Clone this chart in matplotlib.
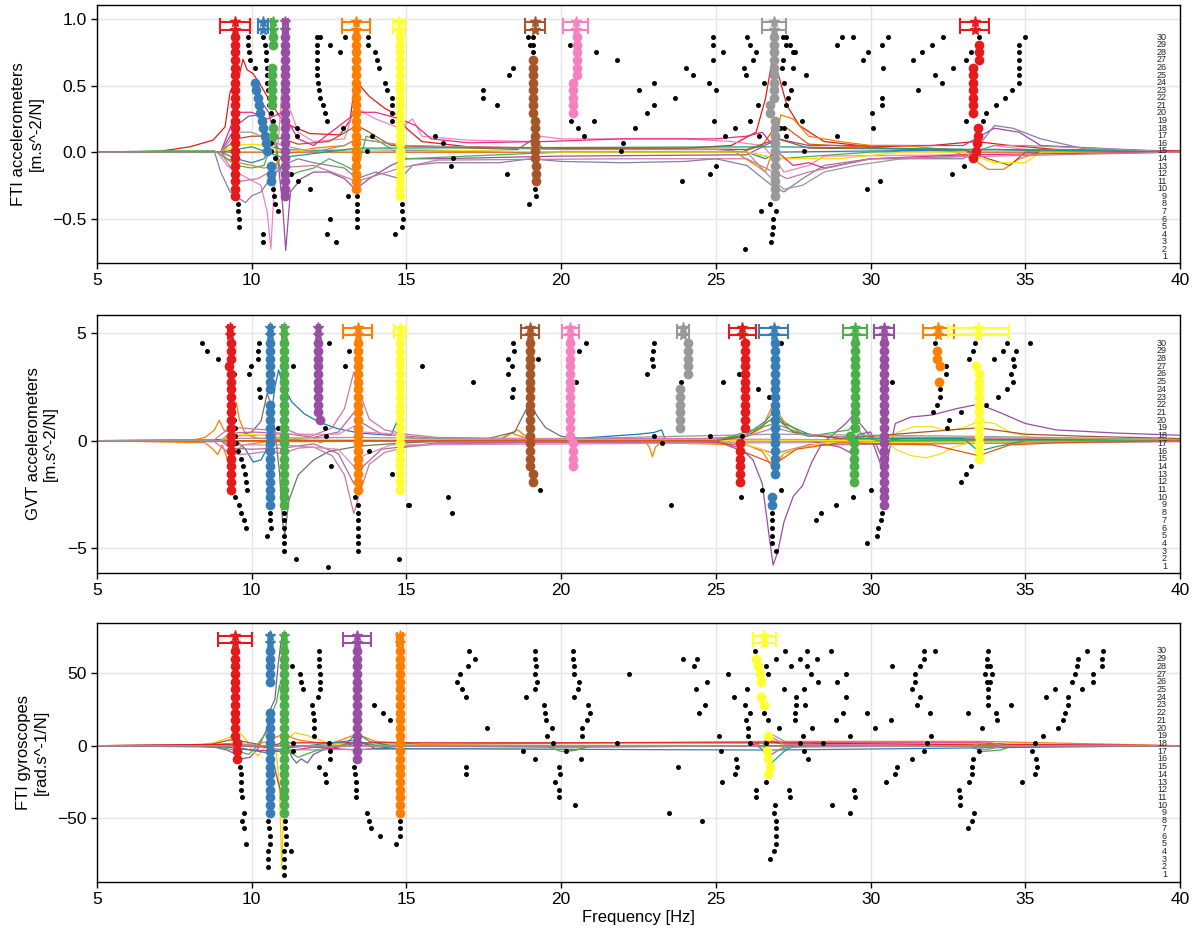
import matplotlib.pyplot as plt

plt.rcParams['font.family'] = ['Liberation Sans', 'DejaVu Sans']

SET1 = ['#e41a1c', '#377eb8', '#4daf4a', '#984ea3', '#ff7f00',
        '#ffff33', '#a65628', '#f781bf', '#999999']

XTICKS = [5, 10, 15, 20, 25, 30, 35, 40]
YLABELS = ['FTI accelerometers\n[m.s^-2/N]',
           'GVT accelerometers\n[m.s^-2/N]',
           'FTI gyroscopes\n[rad.s^-1/N]']
YTICKS = [[-0.5, 0.0, 0.5, 1.0], [-5, 0, 5], [-50, 0, 50]]
YLIMS = [(-0.835, 1.108), (-6.17, 5.86), (-94.2, 84.8)]
# model order 1 sits at ORDER_LO, each order adds ORDER_STEP (data units)
ORDER_LO = [-0.789, -5.87, -89.06]
ORDER_STEP = [0.05704, 0.3591, 5.33]
MAX_ORDER = 30

# ---------------------------------------------------------------- FRF curves
# (colour, [(frequency, value), ...])
P1_CURVES = [
    ('#e41a1c', [(5, 0), (7, 0.005), (8, 0.04), (8.75, 0.09), (9.14, 0.19), (9.3, 0.45), (9.5, 0.55),
                 (9.6, 0.58), (9.72, 0.7), (9.85, 0.62), (10.05, 0.59), (10.3, 0.5), (10.6, 0.38),
                 (10.9, 0.27), (11.24, 0.2), (11.88, 0.14), (12.85, 0.13), (13.18, 0.24), (13.35, 0.55),
                 (13.5, 0.5), (13.8, 0.42), (14.3, 0.33), (14.7, 0.28), (15.0, 0.18), (15.5, 0.08),
                 (17, 0.04), (20, 0.03), (24, 0.03), (25.5, 0.05), (26.3, 0.15), (26.6, 0.4), (26.85, 0.73),
                 (27.0, 0.6), (27.3, 0.35), (27.7, 0.2), (28.5, 0.08), (30, 0.04), (32, 0.05),
                 (33.4, 0.08), (34.5, 0.05), (36, 0.02), (40, 0.01)]),
    ('#f781bf', [(5, 0), (8.9, 0), (9.2, -0.1), (9.5, -0.15), (9.9, -0.2), (10.3, -0.25), (10.5, -0.45),
                 (10.62, -0.73), (10.72, -0.3), (10.9, 0.2), (11.05, 0.75), (11.2, 0.35), (11.5, 0.15),
                 (12, 0.08), (13, 0.1), (13.35, 0.35), (13.6, 0.3), (14, 0.25), (14.8, 0.18),
                 (15.2, 0.25), (15.5, 0.12), (17, 0.09), (19, 0.08), (19.3, 0.12), (20, 0.1), (24, 0.1),
                 (25.5, 0.08), (26.5, 0.05), (26.9, -0.05), (27.2, -0.15), (28, -0.1), (28.5, -0.03),
                 (33, -0.02), (34, 0.05), (35, 0.02), (40, 0)]),
    ('#984ea3', [(5, 0), (9.0, 0), (9.5, 0.2), (9.9, 0.27), (10.2, 0.28), (10.4, 0.35), (10.55, 0.3),
                 (10.8, 0.05), (11.0, -0.4), (11.1, -0.74), (11.25, -0.3), (11.6, -0.2), (12, -0.15),
                 (12.5, -0.15), (13, -0.2), (13.35, -0.28), (13.8, -0.2), (14.5, -0.1), (15, -0.05),
                 (16, -0.05), (20, -0.03), (26, -0.02), (27, 0.1), (28, 0.05), (33, 0.05), (34, 0.18),
                 (34.8, 0.15), (35.5, 0.05), (40, 0)]),
    ('#8e7ba6', [(5, 0), (8.8, 0), (9.0, -0.15), (9.3, -0.3), (9.6, -0.35), (9.8, -0.38), (10.0, -0.33),
                 (10.3, -0.3), (10.6, -0.2), (11.0, -0.1), (11.5, -0.05), (12, -0.08), (13, -0.12),
                 (13.4, -0.2), (14, -0.15), (14.8, -0.2), (15.2, -0.1), (16, -0.08), (18, -0.08),
                 (19, -0.05), (20, -0.07), (22, -0.08), (24, -0.07), (25, -0.05), (26, -0.1),
                 (26.8, -0.25), (27.2, -0.3), (27.8, -0.2), (28.5, -0.1), (30, -0.05), (33, -0.05),
                 (33.5, 0.05), (34, 0.2), (34.6, 0.18), (35.5, 0.1), (37, 0.02), (40, 0)]),
    ('#ff7f00', [(5, 0), (9, 0), (9.2, -0.05), (9.6, -0.08), (10, -0.1), (10.4, -0.12), (10.8, -0.1),
                 (11, -0.02), (12, 0.03), (13, 0.05), (13.4, 0.1), (14, 0.08), (14.8, 0.05), (20, 0.02),
                 (25.5, 0.02), (26.3, -0.1), (26.6, -0.15), (26.9, 0.05), (27.1, 0.28), (27.5, 0.25),
                 (28, 0.12), (28.5, 0.1), (29, 0.08), (30, 0.05), (31, 0.05), (32.5, 0.02), (33.3, -0.05),
                 (33.8, -0.13), (34.3, -0.13), (34.8, -0.05), (35.5, 0.0), (40, 0.0)]),
    ('#e6550d', [(5, 0), (25.8, 0.0), (26.5, 0.05), (26.95, 0.2), (27.3, 0.18), (28, 0.06),
                 (33, 0.0), (40, 0)]),
    ('#4daf4a', [(5, 0), (7, 0.01), (8.8, 0.01), (9.5, -0.1), (10, -0.12), (10.4, -0.1), (10.7, 0.1),
                 (11, -0.2), (11.5, -0.15), (12, -0.12), (12.5, -0.05), (13, -0.1), (13.4, -0.15),
                 (13.7, 0.12), (14, 0.1), (15, -0.05), (20, 0), (26, 0.0), (27, -0.05), (30, 0.0),
                 (34, 0.02), (40, 0)]),
    ('#377eb8', [(5, 0), (9, 0), (9.5, -0.05), (10, -0.08), (10.4, -0.05), (10.6, 0.04), (11, 0.02),
                 (12, 0.01), (13.4, 0.02), (20, 0), (26, 0), (26.6, -0.05), (27, 0), (34, 0.02),
                 (40, 0)]),
    ('#a65628', [(5, 0), (9, 0), (9.5, 0.1), (10, 0.12), (10.5, 0.12), (11, 0.1), (11.5, 0.06),
                 (12.5, 0.08), (13.4, 0.2), (13.8, 0.15), (14.5, 0.05), (18.6, 0.02), (19.1, 0.1),
                 (19.4, 0.03), (26, 0.02), (27, 0.1), (28, 0.03), (33, 0.02), (33.8, -0.05),
                 (34.5, -0.1), (35, 0), (40, 0)]),
    ('#ffdd00', [(5, 0), (9, 0), (9.5, 0.05), (10, 0.06), (10.5, 0.05), (11, 0.0), (12, 0.02),
                 (14.8, 0.02), (20, 0), (26, 0), (27, -0.05), (29, -0.05), (31, 0), (33, 0),
                 (34, -0.08), (35, -0.08), (35.5, 0), (40, 0)]),
    ('#e7298a', [(5, 0), (9, 0), (9.5, 0.3), (10, 0.3), (10.5, 0.25), (11, 0.3), (11.5, 0.1),
                 (12, 0.05), (13.4, 0.3), (14, 0.3), (14.8, 0.25), (15.3, 0.2), (15.8, 0.1), (17, 0.07),
                 (19.5, 0.08), (22, 0.1), (25, 0.1), (26, 0.12), (26.5, 0.15), (27, 0.0),
                 (27.5, -0.1), (28, -0.08), (28.5, -0.12), (30, -0.05), (33, -0.02), (40, 0)]),
    ('#999999', [(5, 0), (9, 0), (9.5, 0.15), (10, 0.15), (10.5, 0.1), (11, 0.05), (12, 0.0),
                 (13, 0.05), (13.4, 0.1), (15, 0.05), (20, 0.02), (25, 0.02), (26, 0), (26.8, -0.2),
                 (27.2, -0.28), (27.8, -0.25), (28.5, -0.15), (29.5, -0.1), (31, -0.05), (33, -0.03),
                 (34, 0.05), (35, 0.05), (40, 0)]),
    ('#1b9e77', [(5, 0), (9, 0), (10, 0.04), (11, -0.04), (13.4, 0.03), (26.9, 0.04), (40, 0)]),
    ('#c27ba0', [(5, 0), (9, 0), (9.6, -0.22), (10.2, -0.2), (10.8, -0.12), (12, -0.1), (13.4, -0.22),
                 (14.8, -0.12), (16, -0.06), (22, -0.05), (26, -0.05), (27.3, -0.2), (28, -0.15),
                 (30, -0.05), (40, 0)]),
]

P2_CURVES = [
    ('#ff7f00', [(5, 0), (8.0, 0), (8.5, 0.15), (8.8, 0.5), (8.95, 0.95), (9.1, 0.5), (9.25, 0.4),
                 (9.4, 1.1), (9.5, 1.8), (9.6, 1.0), (9.8, 0.3), (10.2, 0.1), (11, 0.05), (12, 0.05),
                 (12.1, 0.2), (12.2, -0.1), (12.4, 0), (18, 0.05), (18.3, 0.3), (18.6, 0.5), (18.9, 0.15),
                 (19.2, 0.05), (22.7, 0), (22.85, -0.3), (22.95, -0.75), (23.05, -0.3), (23.3, 0),
                 (26, 0.2), (26.5, 0.6), (26.85, 1.7), (27.2, 0.9), (27.8, 0.3), (29, 0.1), (40, 0)]),
    ('#ff7f00', [(5, 0), (8.5, -0.1), (8.75, -0.4), (8.9, -0.65), (9.05, -0.2), (9.2, -0.8),
                 (9.3, -1.4), (9.45, -0.6), (9.7, -0.2), (10.5, -0.05), (18, 0), (18.4, 0.35),
                 (18.7, 0.2), (19, 0.05), (26, -0.2), (26.5, -0.5), (26.85, -1.3), (27.2, -0.6),
                 (28, -0.2), (40, 0)]),
    ('#707070', [(5, 0), (9, 0.05), (9.5, 0.2), (10, 0.4), (10.3, 0.9), (10.5, 2.2), (10.6, 1.8),
                 (10.75, 0.5), (10.9, -1.5), (11.0, -3.8), (11.07, -4.4), (11.2, -2.8), (11.5, -1.6),
                 (12, -0.9), (12.5, -0.5), (13.5, -0.25), (15, -0.1), (17.5, 0.05), (18.5, 0.4),
                 (18.85, 1.4), (19.0, 1.8), (19.2, 1.2), (19.5, 0.6), (20, 0.2), (21, 0.05), (40, 0)]),
    ('#1f77b4', [(5, 0), (9.5, 0), (9.8, -0.4), (10.05, -1.0), (10.3, -0.9), (10.45, -0.5),
                 (10.6, 0.8), (10.75, 2.5), (10.87, 3.3), (11.0, 2.6), (11.3, 1.8), (11.7, 1.25),
                 (12.2, 0.85), (12.8, 0.55), (13.5, 0.35), (14.5, 0.25), (14.7, 0.9), (14.85, 0.2),
                 (15.5, 0.05), (20, 0.05), (20.5, 0.1), (21, 0.15), (21.5, 0.2), (22, 0.25),
                 (22.5, 0.3), (23, 0.38), (23.25, 0.5), (23.35, 0.1), (24, 0), (40, 0)]),
    ('#c47aa5', [(5, 0), (8.8, 0.05), (9.2, 0.5), (9.6, 0.6), (10.0, 0.55), (10.5, 0.5), (11, 0.6),
                 (11.5, 0.3), (12, 0.25), (12.6, 0.6), (13.0, 1.5), (13.3, 3.2), (13.5, 2.2),
                 (13.8, 1.0), (14.3, 0.5), (15, 0.3), (16, 0.15), (19, 0.1), (25, 0.1), (26, 0.2),
                 (26.9, 0.6), (28, 0.2), (40, 0.05)]),
    ('#c47aa5', [(5, 0), (8.8, -0.05), (9.2, -0.5), (9.6, -0.65), (10, -0.6), (10.5, -0.5),
                 (11, -0.6), (11.5, -0.35), (12, -0.3), (12.6, -0.7), (13.0, -1.6), (13.3, -3.4),
                 (13.5, -2.4), (13.8, -1.1), (14.3, -0.55), (15, -0.3), (16, -0.15), (19, -0.1),
                 (25, -0.1), (26, -0.2), (26.9, -0.6), (28, -0.2), (40, -0.05)]),
    ('#b06a9a', [(5, 0), (9, 0), (9.3, 0.35), (10, 0.4), (11, 0.35), (12, 0.15), (12.8, 0.4),
                 (13.3, 1.3), (13.6, 0.8), (14.2, 0.3), (16, 0.1), (40, 0)]),
    ('#b06a9a', [(5, 0), (9, 0), (9.3, -0.35), (10, -0.4), (11, -0.35), (12, -0.15), (12.8, -0.6),
                 (13.3, -2.0), (13.6, -1.2), (14.2, -0.4), (16, -0.1), (40, 0)]),
    ('#d48fb8', [(5, 0), (9, 0), (9.3, -0.2), (11, -0.2), (12.8, -0.4), (13.3, -1.2), (13.6, -0.7),
                 (14.5, -0.2), (40, 0)]),
    ('#f781bf', [(5, 0), (9, 0), (9.3, 0.2), (11, 0.3), (12.8, 0.3), (13.35, 0.7), (13.6, 0.4),
                 (14.8, 0.3), (15.2, 0.1), (40, 0)]),
    ('#984ea3', [(5, 0), (24, 0), (25.2, -0.1), (25.8, -0.35), (26.2, -0.9), (26.5, -2.0),
                 (26.7, -4.2), (26.85, -5.8), (27.0, -5.2), (27.2, -3.8), (27.5, -2.6), (27.8, -2.1),
                 (28.1, -1.0), (28.4, -0.2), (28.8, 0.3), (29.2, 0.8), (29.45, 1.2), (29.6, 0.9),
                 (30, 0.2), (30.3, -1.0), (30.45, -1.9), (30.6, -0.5), (30.8, 0.8), (31.3, 1.1),
                 (32, 1.2), (32.8, 1.5), (33.5, 1.7), (34.2, 1.3), (35, 0.8), (36, 0.5), (38, 0.35),
                 (40, 0.25)]),
    ('#984ea3', [(5, 0), (28, 0), (29, -0.3), (29.4, -0.6), (29.6, 0.3), (30, 0.4), (30.4, -0.9),
                 (30.6, 0), (31, 0.1), (40, 0)]),
    ('#f0e020', [(5, 0), (30.5, 0), (30.9, 0.4), (31.4, 0.65), (32.0, 0.65), (32.5, 0.45),
                 (33.0, 0.6), (33.5, 0.9), (34.0, 0.8), (34.5, 0.4), (35.2, 0.15), (40, 0.05)]),
    ('#f0e020', [(5, 0), (30.5, 0), (30.8, -0.4), (31.3, -0.7), (31.8, -0.8), (32.3, -0.6),
                 (32.7, -0.3), (33.2, -0.1), (34, 0), (40, 0)]),
    ('#f0e020', [(5, 0), (9, 0), (9.3, 0.25), (10, 0.3), (10.6, 0.2), (12, 0.05), (25.5, 0),
                 (26.5, -0.4), (26.9, -0.9), (27.3, -0.5), (28.5, -0.1), (40, 0)]),
    ('#1b9e77', [(5, 0), (25, 0), (26, 0.3), (26.6, 0.9), (26.9, 1.4), (27.2, 0.8), (28, 0.3),
                 (29, 0.1), (33, 0.1), (33.5, -0.5), (34, -0.3), (35, 0), (40, 0)]),
    ('#a65628', [(5, 0), (25, 0), (26, 0.2), (26.9, 1.1), (27.5, 0.4), (29, 0.1), (33.5, 0.6),
                 (35, 0.3), (37, 0.2), (40, 0.1)]),
    ('#4daf4a', [(5, 0), (25, 0), (26.9, 0.8), (28, 0.2), (29.3, 0.5), (29.5, 0.9), (29.7, 0.3),
                 (30.2, 0), (40, 0)]),
    ('#e6550d', [(5, 0), (25, 0), (26.9, -1.1), (27.6, -0.4), (29, -0.1), (32, -0.2), (33.5, -0.7),
                 (34.5, -0.2), (36, -0.1), (40, 0)]),
    ('#999999', [(5, 0), (9, 0), (9.3, 0.1), (13.4, 0.15), (19, 0.05), (26.9, 0.3), (33.5, 0.2),
                 (40, 0.05)]),
]

P3_CURVES = [
    ('#7d5ba6', [(5, 0), (8, 0), (8.8, -1), (9.2, -3), (9.5, -6), (9.7, -9), (9.95, -8), (10.2, -2),
                 (10.35, 5), (10.5, 12), (10.6, 25), (10.75, 32), (10.85, 55), (10.95, 72), (11.0, 78),
                 (11.05, 30), (11.15, 0), (11.3, -8), (11.45, -12), (11.6, -9), (11.8, -12),
                 (12.0, -6), (12.3, -3), (13, 0), (13.4, 2), (14, 0), (40, 0)]),
    ('#4daf4a', [(5, 0), (8.5, 0), (9.2, -2), (9.6, -4), (9.9, -6), (10.1, -2), (10.3, 4), (10.5, 10),
                 (10.65, 22), (10.8, 30), (10.9, 42), (11.0, 30), (11.05, 5), (11.2, -4), (11.5, -8),
                 (12.0, -4), (12.5, -1), (13, 1), (13.4, 2.5), (14, 0.5), (26.5, 0), (26.8, -6),
                 (27.1, -2), (28, 0), (33.2, 0), (33.6, -4), (34.2, -3), (34.6, 0), (40, 0)]),
    ('#f5d000', [(5, 0), (8, 0), (8.8, 2), (9.3, 6), (9.6, 9), (9.8, 5), (10.0, -3), (10.2, -7),
                 (10.4, -2), (10.6, 4), (10.8, -5), (10.9, -30), (10.97, -85), (11.05, -30),
                 (11.15, 5), (11.4, 9), (11.8, 7), (12.2, 4), (12.6, 1), (13, 0), (20, 0), (20.3, -4),
                 (20.6, -2), (21, 0), (26, 0), (26.8, 4), (27.2, 0), (34, 1), (40, 0)]),
    ('#a65628', [(5, 0), (8.5, 0), (9.3, 4), (9.7, 3), (10.2, 1), (10.6, -2), (10.85, -25),
                 (10.92, -30), (11.0, -42), (11.05, -15), (11.2, 0), (40, 0)]),
    ('#ff7f00', [(5, 0), (9, 1), (9.5, 2), (10, 0), (10.5, 3), (11, 8), (11.5, 4), (12.5, 1),
                 (13.4, 8), (14, 3), (14.8, 2), (15.5, 1), (26.8, 3), (33.5, 3), (40, 0)]),
    ('#1b9e77', [(5, 0), (13, 0), (13.4, 9), (13.8, 3), (14.5, 0), (26.4, 0), (26.8, -12),
                 (27.2, -4), (27.5, 0), (40, 0)]),
    ('#e7298a', [(5, 0), (9, 0), (9.5, -2), (10, -3), (11, -4), (12, -1), (13.4, -3), (15, 0),
                 (26, 0), (26.8, 3), (27, 2), (33.5, 2), (34.5, 1), (40, 0)]),
    ('#999999', [(5, 0), (10, 1), (11, -3), (26.5, 0), (26.8, 8), (27.3, 2), (28, 0), (40, 0)]),
    ('#e41a1c', [(5, 0), (9.2, 1), (9.5, 0), (10.5, -1), (11, 2), (26.8, 2), (33.5, 0.5), (40, 0)]),
    ('#377eb8', [(5, 0), (9.5, -1), (10.5, -5), (11, -2), (13.4, 4), (14, -2), (26.8, -3), (40, 0)]),
    ('#4daf4a', [(5, 0), (19.5, 0), (20.0, -4), (20.5, -3), (21, 0), (40, 0)]),
    ('#c27ba0', [(5, 0), (26.3, 0), (26.8, 6), (27.2, 1), (33.3, 0), (33.7, 3), (34.3, 0), (40, 0)]),
    ('#c27ba0', [(5, 0), (26.3, 0), (26.8, -6), (27.2, -1), (33.3, 0), (33.7, -3), (34.3, 0), (40, 0)]),
]

# ------------------------------------------------------------- stable poles
# (Set1 colour index, [(frequency, first order, last order), ...])
P1_STABLE = [
    (0, [(9.47, 9, 30)]),
    (1, [(10.12, 24, 24), (10.15, 23, 23), (10.2, 22, 22), (10.24, 21, 21), (10.28, 20, 20),
         (10.33, 19, 19), (10.37, 18, 18), (10.42, 17, 17), (10.45, 16, 16), (10.5, 15, 15),
         (10.64, 11, 13)]),
    (2, [(10.68, 29, 30), (10.67, 21, 26), (10.69, 17, 18)]),
    (3, [(11.08, 9, 30)]),
    (4, [(13.37, 10, 30)]),
    (5, [(14.79, 9, 30)]),
    (6, [(19.1, 20, 27), (19.15, 14, 19), (19.2, 11, 13)]),
    (7, [(20.5, 25, 30), (20.4, 20, 24)]),
    (8, [(26.88, 22, 30), (26.75, 20, 21), (26.9, 9, 19)]),
    (0, [(33.5, 27, 29), (33.3, 20, 26), (33.48, 17, 18), (33.43, 16, 16), (33.4, 15, 15),
         (33.3, 14, 14)]),
]
P2_STABLE = [
    (0, [(9.32, 28, 30), (9.27, 27, 27), (9.32, 11, 26)]),
    (1, [(10.6, 24, 30), (10.6, 9, 22)]),
    (2, [(11.05, 9, 30)]),
    (3, [(12.15, 21, 30), (12.2, 20, 20)]),
    (4, [(13.42, 11, 30)]),
    (5, [(14.78, 11, 30)]),
    (6, [(18.99, 14, 30), (19.1, 12, 13)]),
    (7, [(20.3, 18, 30), (20.37, 14, 17)]),
    (8, [(24.1, 26, 30), (23.83, 19, 24)]),
    (0, [(25.94, 19, 30), (25.77, 12, 17)]),
    (1, [(26.9, 13, 30), (26.83, 9, 10)]),
    (2, [(29.5, 19, 30), (29.34, 18, 18), (29.48, 12, 17)]),
    (3, [(30.43, 9, 30)]),
    (4, [(32.14, 29, 29), (32.16, 28, 28), (32.24, 27, 27), (32.2, 25, 25)]),
    (5, [(33.4, 27, 27), (33.5, 15, 26)]),
]
P3_STABLE = [
    (0, [(9.46, 19, 30), (9.53, 16, 18)]),
    (1, [(10.59, 26, 30), (10.59, 9, 22)]),
    (2, [(11.05, 9, 30)]),
    (3, [(13.41, 16, 30)]),
    (4, [(14.79, 9, 30)]),
    (5, [(26.29, 29, 29), (26.35, 28, 28), (26.42, 27, 27), (26.46, 26, 26), (26.46, 24, 24),
         (26.57, 23, 23), (26.67, 19, 19), (26.64, 17, 17), (26.69, 16, 16), (26.75, 15, 15),
         (26.69, 14, 14)]),
]

# (Set1 colour index, centre frequency, half width)
P1_MODES = [(0, 9.47, 0.48), (1, 10.38, 0.16), (2, 10.68, 0.05), (3, 11.08, 0.08),
            (4, 13.37, 0.44), (5, 14.77, 0.2), (6, 19.15, 0.33), (7, 20.47, 0.41),
            (8, 26.88, 0.4), (0, 33.37, 0.47)]
P2_MODES = [(0, 9.3, 0.05), (1, 10.6, 0.05), (2, 11.05, 0.07), (3, 12.15, 0.05), (4, 13.42, 0.46),
            (5, 14.79, 0.2), (6, 18.99, 0.3), (7, 20.3, 0.27), (8, 23.94, 0.2), (0, 25.86, 0.43),
            (1, 26.87, 0.46), (2, 29.5, 0.38), (3, 30.43, 0.32), (4, 32.19, 0.5), (5, 33.48, 0.98)]
P3_MODES = [(0, 9.46, 0.56), (1, 10.59, 0.03), (2, 11.05, 0.05), (3, 13.41, 0.45),
            (4, 14.79, 0.1), (5, 26.56, 0.37)]

# ----------------------------------------------------------- unstable poles
# (frequency, model order)
P1_BLACK = [
    (9.57, 8), (9.57, 7), (9.58, 6), (9.6, 5),
    (9.89, 30), (9.89, 29), (9.92, 28), (9.94, 27), (10.1, 26),
    (10.38, 30), (10.42, 29), (10.45, 28), (10.45, 27), (10.48, 26), (10.48, 25), (10.5, 24),
    (10.52, 23), (10.55, 22), (10.57, 21), (10.62, 20), (10.68, 19), (10.62, 16), (10.64, 15),
    (10.75, 14), (10.7, 10), (10.72, 9), (10.74, 8), (10.85, 7), (10.35, 4), (10.38, 3),
    (11.45, 18), (11.45, 17), (11.28, 12), (11.5, 11), (11.9, 10),
    (12.1, 30), (12.2, 30), (12.1, 29), (12.1, 28), (12.1, 27), (12.12, 26), (12.12, 25),
    (12.15, 24), (12.18, 23), (12.22, 22), (12.3, 21), (12.38, 20), (12.45, 19),
    (12.53, 29), (12.85, 28), (12.95, 18),
    (13.02, 30), (13.77, 30), (13.77, 29), (13.99, 28), (14.04, 27), (14.1, 26), (14.3, 24),
    (14.36, 23), (14.52, 22), (14.52, 21), (14.52, 20), (14.52, 19), (13.88, 17), (13.72, 15),
    (13.12, 9), (13.4, 9), (13.4, 8), (13.4, 7), (13.4, 6), (13.4, 5),
    (12.53, 6), (12.42, 4), (12.72, 3),
    (14.85, 8), (14.85, 7), (14.88, 6), (14.85, 5), (14.63, 4),
    (17.48, 23), (17.48, 22), (17.93, 21), (18.32, 25), (18.45, 26), (18.92, 30), (19.08, 30),
    (19.0, 29), (19.08, 29), (19.08, 28),
    (15.92, 17), (16.17, 16), (16.51, 14), (16.43, 13), (18.24, 12),
    (18.95, 8), (19.2, 9), (19.15, 10),
    (20.28, 29), (21.14, 28), (20.33, 19), (20.55, 18), (20.73, 17), (21.07, 19),
    (21.81, 27), (22.52, 23), (22.99, 24), (22.79, 20), (23.01, 21), (22.39, 18), (22.0, 16),
    (21.95, 15), (23.67, 22), (24.03, 26), (24.27, 25), (23.92, 11),
    (24.9, 30), (24.9, 29), (24.92, 27), (25.0, 23), (24.95, 19), (24.79, 24), (25.22, 28),
    (25.29, 17), (25.62, 18), (25.0, 13), (24.8, 12), (25.93, 2),
    (26.0, 30), (26.1, 29), (26.3, 28), (26.2, 27), (25.9, 26), (25.96, 25), (26.36, 21),
    (26.11, 19), (26.4, 17), (26.56, 24),
    (26.47, 7), (26.74, 8), (26.94, 7), (26.85, 6), (26.85, 5), (26.83, 4), (26.77, 3),
    (27.18, 30), (27.26, 30), (27.28, 29), (27.41, 29), (27.5, 28), (27.55, 28), (27.17, 27),
    (27.15, 26), (27.5, 26), (27.2, 24), (27.44, 23), (27.33, 22), (27.28, 21), (27.06, 18),
    (27.19, 18), (27.28, 17), (27.79, 19), (27.9, 25), (27.84, 15),
    (28.9, 29), (29.07, 30), (29.42, 30), (28.9, 17), (29.77, 27), (29.93, 28), (30.36, 29),
    (30.57, 30), (30.39, 26), (30.36, 22), (30.36, 21), (30.04, 20), (30.07, 18), (29.87, 10),
    (30.3, 11),
    (31.38, 27), (31.65, 28), (31.97, 29), (32.35, 30), (31.54, 23), (32.08, 25), (32.3, 24),
    (32.65, 26), (33.07, 27), (33.24, 28), (33.5, 30), (33.07, 19), (33.64, 19), (33.72, 20),
    (34.04, 21), (34.36, 22), (34.58, 23), (34.81, 24), (34.81, 25), (34.81, 26), (34.81, 27),
    (34.81, 28), (34.81, 29), (34.99, 30), (33.02, 13), (32.62, 12),
]
P2_BLACK = [
    (8.38, 30), (8.56, 29), (8.92, 28), (9.98, 27), (9.9, 26),
    (9.42, 26), (9.42, 20), (9.45, 19), (9.45, 18), (9.5, 17), (9.55, 16),
    (9.67, 15), (9.72, 14), (9.78, 13), (9.83, 12), (9.86, 11), (9.46, 10), (9.6, 9), (9.67, 8),
    (9.76, 7), (9.83, 6),
    (10.25, 30), (10.2, 29), (10.2, 28), (10.25, 24), (10.27, 23),
    (10.6, 8), (10.6, 7), (10.62, 6), (10.49, 5),
    (11.05, 8), (11.05, 7), (11.06, 6), (11.03, 5), (11.03, 4), (11.03, 3), (11.42, 2), (12.46, 1),
    (10.86, 19), (11.35, 27), (12.5, 30), (12.36, 19), (12.41, 18), (12.55, 14), (13.02, 27),
    (13.16, 29), (13.48, 22), (13.8, 16), (14.55, 13), (15.06, 9), (14.77, 2),
    (13.35, 10), (13.42, 9), (13.42, 8), (13.42, 7), (13.42, 6), (13.42, 5), (13.42, 4), (13.42, 3),
    (18.45, 30), (18.48, 29), (18.27, 28), (18.4, 27), (18.29, 26), (18.45, 24), (18.4, 23),
    (19.24, 28), (20.57, 29), (20.79, 30), (20.48, 25), (15.49, 27), (17.16, 25), (16.35, 10),
    (16.48, 8), (15.08, 9), (19.31, 11),
    (23.0, 30), (22.97, 29), (22.93, 28), (22.96, 27), (22.79, 26), (23.89, 25), (23.0, 18),
    (23.27, 17), (23.55, 9), (24.8, 18), (25.24, 25), (25.75, 26), (25.86, 18), (25.8, 10),
    (26.35, 24), (26.72, 23), (27.12, 30), (26.85, 28), (26.5, 11), (27.1, 11),
    (26.8, 8), (26.8, 7), (26.8, 6), (26.8, 5), (26.8, 4), (26.93, 3),
    (28.23, 7), (28.4, 8), (28.87, 9), (29.44, 10), (29.9, 4), (30.2, 5), (30.25, 6), (30.34, 7),
    (30.36, 8), (30.01, 11), (30.68, 25),
    (32.08, 30), (32.43, 27), (32.43, 26), (32.24, 24), (32.24, 23), (32.14, 22), (32.03, 21),
    (32.53, 20), (32.46, 19), (32.91, 12), (33.08, 13), (33.23, 14), (32.93, 21), (33.37, 30),
    (33.32, 29), (33.19, 28), (33.72, 22), (33.99, 28), (34.13, 23), (34.29, 29), (34.42, 24),
    (34.4, 30), (34.69, 29), (34.59, 28), (34.65, 27), (34.54, 26), (34.59, 25), (35.15, 30),
]
P3_BLACK = [
    (9.62, 15), (9.64, 14), (9.67, 13), (9.67, 12), (9.7, 11), (9.76, 9), (9.7, 8), (9.76, 7),
    (9.83, 5),
    (10.53, 8), (10.56, 7), (10.58, 6), (10.58, 5), (10.54, 4), (10.53, 3), (10.54, 2),
    (11.08, 8), (11.08, 7), (11.1, 6), (11.1, 5), (11.03, 4), (11.03, 3), (11.03, 2), (11.05, 1),
    (11.26, 4), (11.29, 28), (11.35, 18), (11.35, 17),
    (11.56, 27), (11.59, 26), (11.67, 25),
    (11.94, 23), (11.97, 22), (12.0, 21), (12.01, 20), (12.01, 19),
    (12.18, 30), (12.18, 29), (12.18, 28), (12.2, 27), (12.2, 26), (12.2, 25), (12.15, 24),
    (12.5, 18), (12.53, 17), (12.53, 16), (12.18, 15), (12.36, 14), (12.41, 13),
    (13.31, 15), (13.33, 14), (13.36, 13), (13.36, 12), (13.38, 11),
    (13.73, 9), (13.8, 8), (13.86, 7), (14.16, 6),
    (13.94, 23), (14.26, 22), (14.48, 21),
    (14.67, 5), (14.8, 6), (14.8, 7), (14.8, 8),
    (17.02, 30), (17.21, 29), (16.98, 28), (16.73, 27), (16.64, 26), (16.81, 25), (16.92, 24),
    (17.59, 20), (16.94, 15), (16.94, 14),
    (19.15, 30), (19.17, 29), (19.2, 28), (19.15, 27), (19.23, 26), (19.15, 25),
    (18.88, 24), (19.45, 23), (19.47, 22), (19.5, 21), (19.72, 20), (19.55, 19), (19.74, 18),
    (18.77, 17), (19.17, 16), (19.94, 15), (19.96, 14), (19.8, 13), (19.94, 12), (19.94, 11),
    (20.15, 17), (20.44, 10),
    (20.37, 30), (20.37, 29), (20.42, 28), (20.42, 27), (20.57, 26), (20.53, 25), (20.41, 24),
    (20.87, 23), (20.93, 22), (20.85, 21), (20.68, 20), (20.66, 19), (20.64, 16),
    (21.79, 18), (22.2, 27), (23.48, 9), (23.78, 15),
    (23.94, 29), (24.38, 29), (24.3, 28), (24.73, 26), (24.35, 25), (24.64, 23), (24.45, 22),
    (24.54, 8),
    (25.1, 19), (25.16, 17), (25.2, 13), (25.38, 27), (25.6, 24), (25.65, 16), (25.69, 15),
    (25.61, 14),
    (26.02, 25), (25.94, 23), (26.1, 22), (25.99, 21), (26.04, 20), (26.04, 19), (26.1, 18),
    (26.26, 30), (26.31, 12), (26.31, 11),
    (26.62, 28), (26.67, 27), (26.56, 22), (26.67, 21), (26.62, 18), (26.62, 13),
    (26.9, 10), (26.88, 9), (26.94, 8), (26.96, 7), (26.96, 6), (26.94, 5), (26.88, 4), (26.74, 3),
    (26.96, 29), (27.23, 30), (27.2, 25), (27.04, 20), (27.37, 12), (27.39, 11),
    (27.44, 28), (27.58, 24), (27.55, 22), (27.55, 21), (27.6, 23), (27.85, 25), (27.82, 19),
    (27.72, 18), (27.85, 17), (27.98, 16),
    (27.72, 29), (27.95, 30), (27.93, 28), (28.09, 27), (28.11, 20), (28.27, 29), (28.3, 26),
    (27.88, 23), (28.45, 18),
    (28.71, 30), (28.9, 26), (29.21, 27), (29.21, 24), (29.1, 22), (28.88, 21), (29.34, 19),
    (29.48, 12), (29.5, 11), (29.34, 9), (28.74, 10),
    (29.9, 22), (30.14, 20), (30.68, 28), (30.66, 21), (30.5, 13), (30.79, 14), (30.84, 15),
    (31.33, 16), (31.33, 25), (31.44, 26), (31.44, 27), (31.6, 28), (31.74, 29), (31.74, 30),
    (31.51, 23), (31.6, 24), (31.73, 17), (31.95, 19), (31.92, 22), (32.08, 30), (31.81, 18),
    (33.14, 22), (33.59, 20), (33.5, 17), (33.32, 16), (33.29, 15), (33.27, 14), (33.19, 13),
    (32.86, 12), (32.89, 11), (32.89, 10), (33.35, 9), (33.27, 8), (33.14, 7),
    (33.7, 27), (33.75, 29), (33.8, 30), (33.75, 28), (33.86, 28), (33.75, 26), (33.86, 26),
    (33.8, 25), (33.8, 24), (33.8, 23), (33.91, 27), (34.05, 22), (34.07, 21), (34.54, 23),
    (34.91, 13), (35.23, 17), (35.31, 18), (35.35, 16), (35.37, 15), (35.31, 14), (35.56, 19),
    (35.66, 24), (35.96, 25), (36.05, 20), (36.23, 21), (36.28, 22), (36.39, 23), (36.39, 24),
    (36.5, 26), (36.61, 27), (36.66, 28), (36.71, 29), (36.82, 25), (36.98, 30), (37.2, 26),
    (37.2, 27), (37.47, 28), (37.47, 29), (37.5, 30),
]

PANELS = [
    (P1_CURVES, P1_STABLE, P1_MODES, P1_BLACK),
    (P2_CURVES, P2_STABLE, P2_MODES, P2_BLACK),
    (P3_CURVES, P3_STABLE, P3_MODES, P3_BLACK),
]
AX_RECTS = [(0.081, 0.7205, 0.9048, 0.2742),
            (0.081, 0.3911, 0.9048, 0.2742),
            (0.081, 0.0627, 0.9048, 0.2752)]


def order_y(i, k):
    return ORDER_LO[i] + (k - 1) * ORDER_STEP[i]


fig = plt.figure(figsize=(11.97, 9.41), dpi=100)

for i, (curves, stable, modes, black) in enumerate(PANELS):
    ax = fig.add_axes(AX_RECTS[i])

    # FRFs
    for color, pts in curves:
        f, v = zip(*pts)
        ax.plot(f, v, color=color, lw=0.9, zorder=2)

    # unstable poles
    bf = [p[0] for p in black]
    by = [order_y(i, p[1]) for p in black]
    ax.plot(bf, by, 'o', color='black', ms=3.6, mec='none', zorder=3)

    # stable poles
    for ci, segs in stable:
        for f, a, b in segs:
            ks = range(a, b + 1)
            ax.plot([f] * len(ks), [order_y(i, k) for k in ks], 'o', color=SET1[ci],
                    ms=7, mec='none', zorder=4)

    # identified modes: two rows of error bars with star markers
    for ci, fc, hw in modes:
        for row in (31, 32):
            ax.errorbar(fc, order_y(i, row), xerr=hw, fmt='*', color=SET1[ci], ms=8,
                        elinewidth=1.5, capsize=3, capthick=1.5, zorder=5)

    # model order labels
    for k in range(1, MAX_ORDER + 1):
        ax.text(39.58, order_y(i, k), str(k), ha='right', va='center', fontsize=6.5,
                color='#222222', zorder=6)

    ax.set_xlim(5, 40)
    ax.set_ylim(*YLIMS[i])
    ax.set_xticks(XTICKS)
    ax.set_yticks(YTICKS[i])
    ax.grid(True, color='#e5e5e5', lw=1)
    ax.set_axisbelow(True)
    ax.tick_params(direction='out', length=4, width=1, labelsize=12.5,
                   top=False, right=False)
    for s in ax.spines.values():
        s.set_linewidth(1)
        s.set_color('black')
    ax.set_ylabel(YLABELS[i], fontsize=12, labelpad=6)
    if i == 2:
        ax.set_xlabel('Frequency [Hz]', fontsize=12, labelpad=2)

fig.savefig('out.png', dpi=100)
